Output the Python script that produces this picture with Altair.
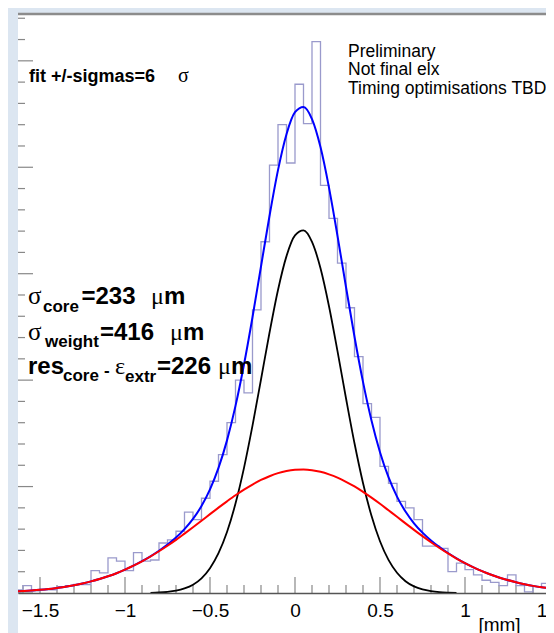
import altair as alt
import pandas as pd

# ---- data ----
edges = [-1.65, -1.6, -1.55, -1.5, -1.45, -1.4, -1.35, -1.3, -1.25, -1.2, -1.15, -1.1, -1.05,
         -1.0, -0.95, -0.9, -0.85, -0.8, -0.75, -0.7, -0.65, -0.6, -0.55, -0.5, -0.45, -0.4,
         -0.35, -0.3, -0.25, -0.2, -0.15, -0.1, -0.05, 0.0, 0.05, 0.1, 0.15, 0.2, 0.25, 0.3,
         0.35, 0.4, 0.45, 0.5, 0.55, 0.6, 0.65, 0.7, 0.75, 0.8, 0.85, 0.9, 0.95, 1.0, 1.05,
         1.1, 1.15, 1.2, 1.25, 1.3, 1.35, 1.4, 1.45, 1.5, 1.55]

counts = [3, 7, 2, 3, 3, 6, 7, 8, 8, 21, 19, 33, 30, 21, 38, 30, 31, 47, 50, 58, 76, 69,
          89, 105, 130, 160, 200, 188, 266, 330, 402, 440, 404, 478, 441, 518, 383, 352,
          310, 268, 222, 178, 165, 119, 103, 86, 80, 69, 44, 44, 42, 20, 28, 22, 17, 12,
          10, 7, 17, 7, 1, 6, 9, 8]

blue_fit = [1.4, 1.9, 2.4, 3.0, 3.8, 4.8, 5.9, 7.3, 9.0, 10.9, 13.1, 15.7, 18.6, 22.0, 25.7,
            29.9, 34.5, 39.7, 45.5, 52.1, 60.0, 69.6, 81.7, 97.3, 117.5, 143.4, 175.8, 214.7,
            259.1, 306.8, 354.2, 397.3, 431.1, 451.7, 456.7, 445.3, 419.0, 380.9, 335.6,
            287.5, 240.8, 198.4, 162.1, 132.3, 108.8, 90.6, 76.5, 65.5, 56.7, 49.4, 43.1,
            37.6, 32.6, 28.1, 24.1, 20.6, 17.4, 14.6, 12.2, 10.1, 8.3, 6.7, 5.4, 4.4, 3.5]

red_fit = [1.4, 1.9, 2.4, 3.0, 3.8, 4.8, 5.9, 7.3, 9.0, 10.9, 13.1, 15.7, 18.6, 22.0, 25.7,
           29.8, 34.3, 39.2, 44.4, 49.9, 55.8, 61.8, 67.9, 74.1, 80.2, 86.1, 91.8, 97.1,
           101.9, 106.2, 109.7, 112.6, 114.6, 115.7, 116.0, 115.4, 113.9, 111.5, 108.4,
           104.5, 100.1, 95.0, 89.6, 83.8, 77.7, 71.6, 65.4, 59.3, 53.4, 47.7, 42.3, 37.2,
           32.4, 28.1, 24.1, 20.6, 17.4, 14.6, 12.2, 10.1, 8.3, 6.7, 5.4, 4.4, 3.5]

black_x = [-0.85, -0.8, -0.75, -0.7, -0.65, -0.6, -0.55, -0.5, -0.45, -0.4, -0.35, -0.3,
           -0.25, -0.2, -0.15, -0.1, -0.05, 0.0, 0.05, 0.1, 0.15, 0.2, 0.25, 0.3, 0.35, 0.4,
           0.45, 0.5, 0.55, 0.6, 0.65, 0.7, 0.75, 0.8, 0.85, 0.9, 0.95]
black_fit = [0.2, 0.5, 1.1, 2.2, 4.3, 7.8, 13.8, 23.3, 37.4, 57.3, 84.0, 117.6, 157.2, 200.6,
             244.5, 284.7, 316.5, 336.0, 340.7, 329.9, 305.1, 269.4, 227.2, 183.0, 140.7,
             103.4, 72.5, 48.6, 31.1, 19.0, 11.1, 6.2, 3.3, 1.7, 0.8, 0.4, 0.2]

x_major = [-1.5, -1.0, -0.5, 0.0, 0.5, 1.0, 1.5]
x_edge_label = [1.5]
x_minor = [-1.6, -1.4, -1.3, -1.2, -1.1, -0.9, -0.8, -0.7, -0.6, -0.4, -0.3, -0.2, -0.1,
           0.1, 0.2, 0.3, 0.4, 0.6, 0.7, 0.8, 0.9, 1.1, 1.2, 1.3, 1.4]
y_major = [0, 100, 200, 300, 400, 500]
y_minor = [20, 40, 60, 80, 120, 140, 160, 180, 220, 240, 260, 280, 320, 340, 360, 380,
           420, 440, 460, 480, 520, 540]

# ---- layout ----
W, H = 528, 579
xs = alt.Scale(domain=[-1.6294, 1.4765], nice=False, zero=False)
ys = alt.Scale(domain=[0, 544], nice=False, zero=False)

XAXIS = alt.Axis(
    values=x_major, format="~g", ticks=False, tickSize=0, grid=False,
    labelFont="Liberation Sans", labelFontSize=19, labelColor="black",
    labelPadding=8.5, labelFlush=False, labelOverlap=False, labelBound=False,
    domainColor="#555555", domainWidth=1.6,
    title="[mm]", titleFont="Liberation Sans", titleFontSize=19,
    titleFontWeight="normal", titleColor="black", titleX=481, titleY=22,
    titleAlign="center", titleBaseline="top", zindex=1)

one = pd.DataFrame({"a": [0]})

bg = alt.Chart(one).mark_rect(color="white", clip=False).encode(
    x=alt.value(0), x2=alt.value(W + 30), y=alt.value(0), y2=alt.value(H + 70))

frame_top = alt.Chart(one).mark_rule(color="#8c8c8c", strokeWidth=2.5, clip=False).encode(
    x=alt.value(0), x2=alt.value(W + 10), y=alt.value(0))

hist_df = pd.DataFrame({"x": edges, "y": counts + [counts[-1]]})
hist = alt.Chart(hist_df).mark_line(
    interpolate="step-after", color="#9a9acc", strokeWidth=1.3, clip=True
).encode(
    x=alt.X("x:Q", scale=xs, axis=XAXIS),
    y=alt.Y("y:Q", scale=ys, axis=None),
)

def curve(xv, yv, color, width):
    d = pd.DataFrame({"x": xv, "y": yv})
    return alt.Chart(d).mark_line(color=color, strokeWidth=width, interpolate="monotone",
                                  clip=True).encode(
        x=alt.X("x:Q", scale=xs, axis=XAXIS), y=alt.Y("y:Q", scale=ys, axis=None))

blue = curve(edges, blue_fit, "#0000ff", 2.0)
black = curve(black_x, black_fit, "#000000", 1.8)
red = curve(edges, red_fit, "#ff0000", 2.0)

def yticks(vals, length):
    return alt.Chart(pd.DataFrame({"y": vals})).mark_rule(color="#888888", strokeWidth=1.2).encode(
        y=alt.Y("y:Q", scale=ys, axis=None), x=alt.value(0), x2=alt.value(length))

def xticks(vals, length):
    return alt.Chart(pd.DataFrame({"x": vals})).mark_rule(color="#888888", strokeWidth=1.2,
                                                          clip=True).encode(
        x=alt.X("x:Q", scale=xs, axis=XAXIS), y=alt.value(H), y2=alt.value(H - length))

# label of the tick that sits at the cropped right edge
edge_lab = alt.Chart(pd.DataFrame({"x": x_edge_label, "t": ["1.5"]})).mark_text(
    align="center", baseline="top", font="Liberation Sans", fontSize=19, color="black",
    clip=False
).encode(x=alt.X("x:Q", scale=xs, axis=XAXIS), y=alt.value(H + 8.5), text="t:N")

def txt(s, x, y, size, weight="normal", font="Liberation Sans"):
    return alt.Chart(pd.DataFrame({"t": [s]})).mark_text(
        align="left", baseline="alphabetic", font=font, fontSize=size,
        fontWeight=weight, color="black", clip=False
    ).encode(text="t:N", x=alt.value(x), y=alt.value(y))

SERIF = "Liberation Serif"
F, f = 24, 17

texts = [
    txt("fit +/-sigmas=6", 11, 68, 18, "bold"),
    txt("σ", 160, 68, 20, "normal", SERIF),
    txt("Preliminary", 330, 42.5, 17.5),
    txt("Not final elx", 330, 61, 17.5),
    txt("Timing optimisations TBD", 330, 79.5, 17.5),
    # line 1
    txt("σ", 10, 289.5, 25, "normal", SERIF),
    txt("core", 25, 297.5, f, "bold"),
    txt("=233", 63.5, 289.5, F, "bold"),
    txt("μ", 133, 289.5, F, "normal", SERIF),
    txt("m", 146, 289.5, F, "bold"),
    # line 2
    txt("σ", 10, 325.5, 25, "normal", SERIF),
    txt("weight", 27, 333, f, "bold"),
    txt("=416", 82, 325.5, F, "bold"),
    txt("μ", 152, 325.5, F, "normal", SERIF),
    txt("m", 165, 325.5, F, "bold"),
    # line 3
    txt("res", 10, 360, F, "bold"),
    txt("core", 45, 367, f, "bold"),
    txt("-", 86, 362, f, "bold"),
    txt("ε", 97, 360, F, "normal", SERIF),
    txt("extr", 107, 368, f, "bold"),
    txt("=226", 139, 360, F, "bold"),
    txt("μ", 200, 360, F, "normal", SERIF),
    txt("m", 213, 360, F, "bold"),
]

chart = alt.layer(
    bg, frame_top,
    yticks(y_major, 15), yticks(y_minor, 7),
    xticks(x_major, 16), xticks(x_minor, 8),
    hist, blue, black, red, edge_lab,
    *texts,
).properties(
    width=W, height=H,
    autosize=alt.AutoSizeParams(type="none"),
    padding={"left": 10, "top": 6, "right": 0, "bottom": 40},
).configure(
    background="#dce6f1",
).configure_view(stroke=None)

chart.save("out.html", embed_options={"renderer": "svg", "actions": False})
